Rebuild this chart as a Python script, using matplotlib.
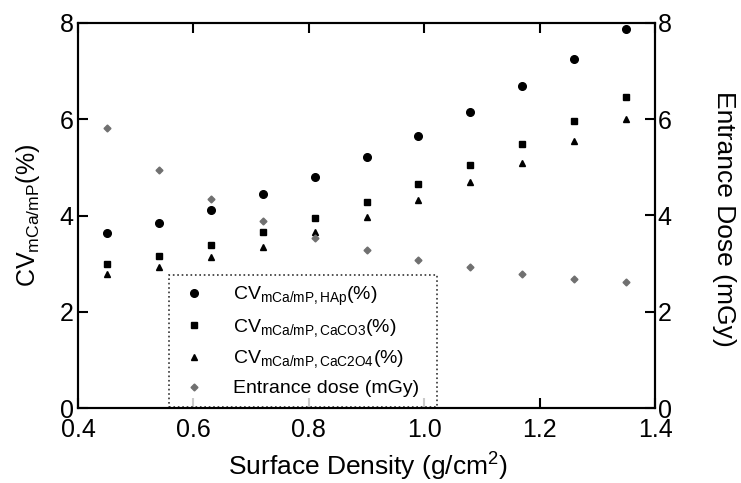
"""CV of mCa/mP ratio and entrance dose versus surface density."""

import matplotlib
matplotlib.use("Agg")
import matplotlib.pyplot as plt

surface_density = [0.45, 0.54, 0.63, 0.72, 0.81, 0.90, 0.99, 1.08, 1.17, 1.26, 1.35]
cv_hap = [3.64, 3.85, 4.12, 4.45, 4.80, 5.22, 5.66, 6.15, 6.69, 7.26, 7.88]
cv_caco3 = [2.99, 3.16, 3.39, 3.66, 3.95, 4.28, 4.66, 5.05, 5.49, 5.97, 6.47]
cv_cac2o4 = [2.78, 2.93, 3.14, 3.35, 3.66, 3.97, 4.32, 4.70, 5.09, 5.55, 6.01]
entrance_dose = [5.82, 4.95, 4.34, 3.89, 3.53, 3.28, 3.08, 2.93, 2.79, 2.69, 2.61]

plt.rcParams.update(
    {
        "font.family": ["Liberation Sans", "DejaVu Sans"],
        "font.size": 14,
        "mathtext.fontset": "custom",
        "mathtext.rm": "Liberation Sans",
        "mathtext.it": "Liberation Sans",
        "mathtext.default": "regular",
        "axes.linewidth": 1.5,
    }
)

W, H = 741, 483
L, R, T, B = 78, 655, 23, 408

fig = plt.figure(figsize=(W / 100, H / 100), dpi=100)
ax = fig.add_axes([L / W, 1 - B / H, (R - L) / W, (B - T) / H])
ax2 = ax.twinx()

h1, = ax.plot(surface_density, cv_hap, "o", color="black", markersize=5.5,
              label="CV$_{mCa/mP,HAp}$(%)")
h2, = ax.plot(surface_density, cv_caco3, "s", color="black", markersize=5,
              label="CV$_{mCa/mP,CaCO3}$(%)")
h3, = ax.plot(surface_density, cv_cac2o4, "^", color="black", markersize=5,
              label="CV$_{mCa/mP,CaC2O4}$(%)")
h4, = ax2.plot(surface_density, entrance_dose, "D", color="#707070", markersize=3.5,
               label="Entrance dose (mGy)")

ax.set_xlim(0.4, 1.4)
ax.set_ylim(0, 8)
ax2.set_ylim(0, 8)
ax.set_xticks([0.4, 0.6, 0.8, 1.0, 1.2, 1.4])
ax.set_xticklabels(["0.4", "0.6", "0.8", "1.0", "1.2", "1.4"])
ax.set_yticks([0, 2, 4, 6, 8])
ax2.set_yticks([0, 2, 4, 6, 8])

ax.tick_params(axis="both", direction="in", length=7, width=1.5, labelsize=18,
               top=True, pad=3)
ax.tick_params(axis="x", pad=7)
ax2.tick_params(axis="y", direction="in", length=7, width=1.5, labelsize=18, pad=2)

ax.set_xlabel("Surface Density (g/cm$^2$)", fontsize=19, va="center")
ax.xaxis.set_label_coords((368 - L) / (R - L), -(467 - B) / (B - T))
ax.set_ylabel("CV$_{mCa/mP}$(%)", fontsize=18, va="center")
ax.yaxis.set_label_coords((28 - L) / (R - L), 0.5)
ax2.set_ylabel("Entrance Dose (mGy)", fontsize=19, rotation=270, va="center")
ax2.yaxis.set_label_coords((724 - L) / (R - L), 0.49)

leg = ax.legend(
    handles=[h1, h2, h3, h4],
    loc="upper left",
    bbox_to_anchor=((169 - L) / (R - L), (B - 275) / (B - T), (437 - 169) / (R - L), 0.0),
    mode="expand",
    fontsize=14,
    frameon=True,
    fancybox=False,
    borderaxespad=0,
    handlelength=1.6,
    handletextpad=1.2,
    labelspacing=0.48,
    borderpad=0.5,
)
frame = leg.get_frame()
frame.set_edgecolor("black")
frame.set_linestyle(":")
frame.set_linewidth(1.2)

fig.savefig("out.png", dpi=100)
